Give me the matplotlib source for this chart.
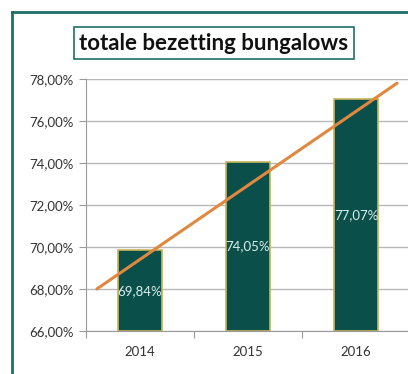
import matplotlib
matplotlib.use("Agg")
import matplotlib.pyplot as plt
from matplotlib.lines import Line2D

years = ["2014", "2015", "2016"]
values = [69.84, 74.05, 77.07]
labels = ["69,84%", "74,05%", "77,07%"]
yticks = [66, 68, 70, 72, 74, 76, 78]
ytick_labels = ["66,00%", "68,00%", "70,00%", "72,00%", "74,00%", "76,00%", "78,00%"]
trend_x = [-0.4, 2.38]
trend_y = [68.0, 77.8]

FONT = "Lato"
W, H = 408, 374
fig = plt.figure(figsize=(W/100, H/100), dpi=100)
fig.patch.set_facecolor("white")

# outer frame (left and top only visible)
fig.add_artist(Line2D([12/W, 12/W], [0, 1 - 12/H], color="#1d6f6c", lw=2, transform=fig.transFigure))
fig.add_artist(Line2D([12/W, 1], [1 - 12/H, 1 - 12/H], color="#1d6f6c", lw=2, transform=fig.transFigure))

ax = fig.add_axes([86/W, 1 - 331/H, (410-86)/W, (331-79)/H])
ax.set_xlim(-0.5, 2.5)
ax.set_ylim(66, 78)
x = list(range(len(years)))
ax.bar(x, [v - 66 for v in values], bottom=66, width=0.41, color="#0b4f4a",
       edgecolor="#c9b45a", linewidth=1.2, zorder=3)
for xi, v, lab in zip(x, values, labels):
    ax.text(xi, (66 + v) / 2, lab, ha="center", va="center", color="#d8f0ee",
            fontsize=9.5, family=FONT, zorder=5)
ax.plot(trend_x, trend_y, color="#e0883f", lw=2.2, zorder=4, solid_capstyle="round")

ax.set_yticks(yticks)
ax.set_yticklabels(ytick_labels, fontsize=9.5, family=FONT, color="#333333")
ax.set_xticks([-0.5, 0.5, 1.5])
ax.set_xticklabels([])
ax.set_xticks(x, minor=True)
ax.set_xticklabels(years, minor=True, fontsize=9.5, family=FONT, color="#333333")
ax.tick_params(axis="x", which="major", length=5, color="#999999", direction="out")
ax.tick_params(axis="x", which="minor", length=0, pad=11)
ax.tick_params(axis="y", length=5, color="#999999", pad=4)
ax.grid(axis="y", color="#b8b8b8", lw=1, zorder=0)
for s in ["top", "right"]:
    ax.spines[s].set_visible(False)
ax.spines["left"].set_color("#999999")
ax.spines["bottom"].set_color("#999999")
ax.axhline(78, color="#9fb8bd", lw=1.5, zorder=1)

fig.text(214/W, 1 - 43/H, "totale bezetting bungalows", ha="center", va="center",
         fontsize=16, family=FONT, fontweight="bold", color="#111111",
         bbox=dict(boxstyle="square,pad=0.25", fc="white", ec="#1d6f6c", lw=1.2))

fig.savefig("out.png", dpi=100, facecolor="white")
